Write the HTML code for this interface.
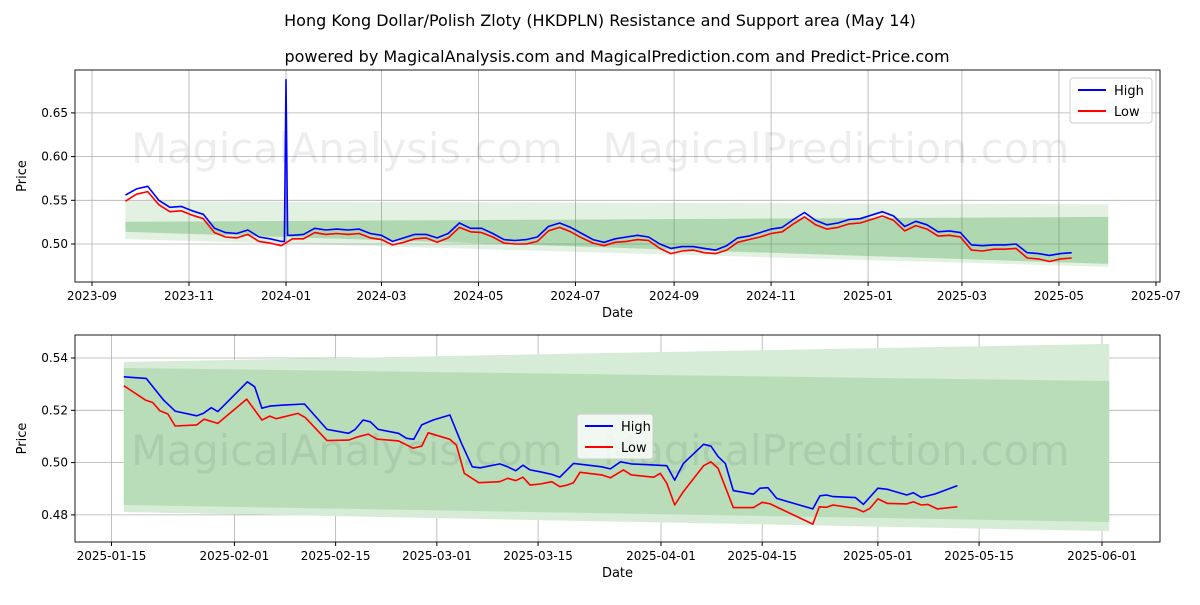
<!DOCTYPE html>
<html><head><meta charset="utf-8"><style>
body{margin:0;background:#fff;font-family:"Liberation Sans","DejaVu Sans",sans-serif}
svg text{font-family:"DejaVu Sans","Liberation Sans",sans-serif}
</style></head><body>
<svg id="s" width="1200" height="600" xmlns="http://www.w3.org/2000/svg">
<text x="600" y="26" font-size="16" text-anchor="middle">Hong Kong Dollar/Polish Zloty (HKDPLN) Resistance and Support area (May 14)</text>
<text x="617" y="62" font-size="16" text-anchor="middle">powered by MagicalAnalysis.com and MagicalPrediction.com and Predict-Price.com</text>
</svg>
<script>
// ---- top chart data ----
const topStart = "2023-09-22";
const topHigh = [0.556,0.563,0.566,0.550,0.542,0.543,0.538,0.534,0.518,0.513,0.512,0.516,0.508,0.506,0.503,0.510,0.511,0.518,0.516,0.517,0.516,0.517,0.512,0.510,0.503,0.507,0.511,0.511,0.507,0.512,0.524,0.518,0.518,0.512,0.505,0.504,0.505,0.508,0.520,0.524,0.519,0.512,0.505,0.502,0.506,0.508,0.510,0.508,0.500,0.495,0.497,0.497,0.495,0.493,0.498,0.507,0.509,0.513,0.517,0.519,0.528,0.536,0.527,0.522,0.524,0.528,0.529,0.533,0.537,0.532,0.520,0.526,0.522,0.514,0.515,0.513,0.499,0.498,0.499,0.499,0.500,0.490,0.489,0.487,0.489,0.490];
const topLow = [0.549,0.557,0.560,0.545,0.537,0.538,0.533,0.529,0.513,0.508,0.507,0.511,0.503,0.501,0.498,0.506,0.506,0.513,0.511,0.512,0.511,0.512,0.507,0.505,0.499,0.502,0.506,0.507,0.502,0.507,0.519,0.514,0.513,0.508,0.501,0.500,0.500,0.503,0.515,0.519,0.514,0.507,0.501,0.498,0.502,0.503,0.505,0.504,0.495,0.489,0.492,0.493,0.490,0.489,0.493,0.502,0.505,0.508,0.512,0.514,0.523,0.531,0.522,0.517,0.519,0.523,0.524,0.528,0.532,0.527,0.515,0.521,0.517,0.509,0.510,0.508,0.493,0.492,0.494,0.494,0.495,0.484,0.483,0.480,0.483,0.484];
const spikeDate = "2024-01-01";
const spikeHigh = 0.688;
const topBandDates = ["2023-09-22","2025-06-01"];
const topLightUpper = [0.549,0.5454];
const topLightLower = [0.5057,0.4738];
const topDarkUpper = [0.5255,0.531];
const topDarkLower = [0.514,0.4773];
const topYTicks = [0.50,0.55,0.60,0.65];
const topXTicks = ["2023-09","2023-11","2024-01","2024-03","2024-05","2024-07","2024-09","2024-11","2025-01","2025-03","2025-05","2025-07"];
// ---- bottom chart data (days since 2025-01-15) ----
const botHighDays = [1.7,4.8,7.2,8.8,11.8,12.7,13.8,14.7,18.8,19.8,20.8,21.9,23.8,26.7,29.8,32.8,33.7,34.8,35.8,36.9,39.7,40.8,41.8,42.9,44.5,46.8,48.4,49.9,51.0,53.7,54.8,55.9,56.9,57.9,59.3,60.9,62.0,63.9,67.8,69.0,70.4,71.9,76.8,77.9,79.1,81.9,82.9,83.9,84.9,86.0,88.8,89.7,90.8,92.0,97.0,98.0,98.9,99.8,102.9,104.0,106.0,107.3,110.0,110.9,112.0,113.9,117.0];
const botHigh = [.5328,.5322,.5239,.5197,.5179,.5188,.5210,.5195,.5309,.5290,.5208,.5216,.5220,.5224,.5127,.5112,.5127,.5163,.5156,.5127,.5112,.5093,.5089,.5144,.5163,.5182,.5074,.4984,.4980,.4995,.4984,.4969,.4990,.4972,.4965,.4955,.4944,.4997,.4984,.4976,.5003,.4995,.4988,.4933,.4997,.5070,.5063,.5023,.4997,.4893,.4879,.4902,.4904,.4863,.4823,.4873,.4876,.4870,.4866,.4840,.4902,.4898,.4876,.4885,.4867,.4880,.4912];
const botLowDays = [1.7,4.7,5.7,6.7,7.8,8.8,11.8,12.8,14.7,18.7,20.8,21.9,22.8,25.8,26.8,29.8,32.8,33.9,35.5,36.7,39.7,41.7,42.9,43.8,46.8,47.7,48.8,50.8,53.7,54.8,55.9,56.9,57.9,59.3,60.9,62.0,63.0,63.9,64.8,67.8,69.0,70.8,71.9,75.0,75.9,76.8,77.9,79.1,81.9,82.9,83.9,86.0,88.8,90.0,91.1,97.0,97.9,98.9,99.8,102.9,104.0,104.9,106.0,107.3,110.0,110.9,112.0,112.9,114.2,117.0];
const botLow = [.5294,.5239,.5230,.5198,.5186,.5140,.5144,.5166,.5150,.5243,.5163,.5178,.5168,.5188,.5172,.5084,.5086,.5097,.5109,.5090,.5083,.5055,.5063,.5114,.5089,.5067,.4959,.4923,.4927,.4940,.4931,.4944,.4914,.4918,.4927,.4908,.4914,.4923,.4963,.4953,.4942,.4972,.4953,.4944,.4959,.4921,.4838,.4889,.4988,.5003,.4978,.4828,.4828,.4848,.4842,.4765,.4831,.4829,.4838,.4825,.4812,.4825,.4861,.4844,.4842,.4850,.4838,.4840,.4823,.4831];
const botBandDays = [1.7,138];
const botLightUpper = [0.5385,0.5454];
const botLightLower = [0.4811,0.4738];
const botDarkUpper = [0.5362,0.5312];
const botDarkLower = [0.4838,0.4773];
const botYTicks = [0.48,0.50,0.52,0.54];
const botXTicks = ["2025-01-15","2025-02-01","2025-02-15","2025-03-01","2025-03-15","2025-04-01","2025-04-15","2025-05-01","2025-05-15","2025-06-01"];

const NS="http://www.w3.org/2000/svg";
const svg=document.getElementById('s');
function mk(tag,attrs,parent){const e=document.createElementNS(NS,tag);for(const k in attrs)e.setAttribute(k,attrs[k]);(parent||svg).appendChild(e);return e;}
const DAY=86400000;
function dnum(s){const p=s.split('-').map(Number);return Date.UTC(p[0],p[1]-1,p[2]||1)/DAY;}

function chart(cfg){
  const g=mk('g',{});
  
  
  const X=cfg.X,Y=cfg.Y;
  cfg.xt.forEach(t=>{const x=X(t.d);const l=mk('line',{x1:x,x2:x,y1:cfg.top,y2:cfg.bot,stroke:'#b0b0b0','stroke-width':0.8},g);});
  cfg.yt.forEach(v=>{const y=Y(v);const l=mk('line',{x1:cfg.left,x2:cfg.right,y1:y,y2:y,stroke:'#b0b0b0','stroke-width':0.8},g);});
  function band(xs,up,lo,fill,name){const pts=[[X(xs[0]),Y(up[0])],[X(xs[1]),Y(up[1])],[X(xs[1]),Y(lo[1])],[X(xs[0]),Y(lo[0])]].map(p=>p.join(',')).join(' ');const p=mk('polygon',{points:pts,fill:fill},g);}
  band(cfg.bx,cfg.lu,cfg.ll,cfg.lightFill,'support-resistance-band-outer');
  band(cfg.bx,cfg.du,cfg.dl,cfg.darkFill,'support-resistance-band-inner');
  [['MagicalAnalysis.com',347],['MagicalPrediction.com',836]].forEach(w=>{const t=mk('text',{x:w[1],y:cfg.wy,'font-size':41.5,'text-anchor':'middle',fill:'rgba(0,0,0,0.07)'},g);t.textContent=w[0];});
  function line(xs,ys,col,name){const d=xs.map((x,i)=>(i?'L':'M')+X(x).toFixed(1)+','+Y(ys[i]).toFixed(1)).join('');const p=mk('path',{d:d,fill:'none',stroke:col,'stroke-width':1.6,'stroke-linejoin':'round'},g);}
  line(cfg.hx,cfg.hy,'#0000ff','high-line');
  line(cfg.lx,cfg.ly,'#ff0000','low-line');
  const fr=mk('rect',{x:cfg.left,y:cfg.top,width:cfg.right-cfg.left,height:cfg.bot-cfg.top,fill:'none',stroke:'#000','stroke-width':0.9},g);
  
  cfg.xt.forEach(t=>{const x=X(t.d);mk('line',{x1:x,x2:x,y1:cfg.bot,y2:cfg.bot+4,stroke:'#000'},g);const tx=mk('text',{x:x,y:cfg.bot+18,'font-size':12,'text-anchor':'middle'},g);tx.textContent=t.l;});
  cfg.yt.forEach(v=>{const y=Y(v);mk('line',{x1:cfg.left-4,x2:cfg.left,y1:y,y2:y,stroke:'#000'},g);const tx=mk('text',{x:cfg.left-7,y:y+4,'font-size':12,'text-anchor':'end'},g);tx.textContent=v.toFixed(2);});
  const xl=mk('text',{x:(cfg.left+cfg.right)/2,y:cfg.bot+35,'font-size':13,'text-anchor':'middle'},g);xl.textContent='Date';
  
  const yc=(cfg.top+cfg.bot)/2;
  const yl=mk('text',{x:26,y:yc,'font-size':13,'text-anchor':'middle',transform:'rotate(-90 26 '+yc+')'},g);yl.textContent='Price';
  
  const L=cfg.leg;
  const lg=mk('g',{},g);
  
  mk('rect',{x:L.x,y:L.y,width:L.w,height:45,rx:3,fill:'rgba(255,255,255,0.8)',stroke:'#ccc'},lg);
  [['High','#0000ff',0],['Low','#ff0000',21]].forEach(e=>{mk('line',{x1:L.x+8,x2:L.x+36,y1:L.y+12+e[2],y2:L.y+12+e[2],stroke:e[1],'stroke-width':2},lg);const t=mk('text',{x:L.x+44,y:L.y+17+e[2],'font-size':13},lg);t.textContent=e[0];});
}

const t0=dnum("2023-09-01");
const TX=d=>92+(d-t0)*1.5904, TY=v=>244-(v-0.5)*874;
const s0=dnum(topStart);
const hxTop=[],hyTop=[],lxTop=[];
topHigh.forEach((v,i)=>{const d=s0+i*7;hxTop.push(d);hyTop.push(v);lxTop.push(d);});
const sd=dnum(spikeDate);let k=hxTop.findIndex(d=>d>sd);
hxTop.splice(k,0,sd-1,sd,sd+1);hyTop.splice(k,0,topHigh[k-1],spikeHigh,topHigh[k]);
chart({name:'top-chart',X:TX,Y:TY,top:70,bot:282,left:75,right:1160,wy:163,
  xt:topXTicks.map(l=>({d:dnum(l+"-01"),l:l})),yt:topYTicks,
  bx:topBandDates.map(dnum),lu:topLightUpper,ll:topLightLower,du:topDarkUpper,dl:topDarkLower,
  lightFill:'rgba(60,160,60,0.15)',darkFill:'rgba(60,160,60,0.3)',
  hx:hxTop,hy:hyTop,lx:lxTop,ly:topLow,leg:{x:1070,y:78,w:82}});
const BX=d=>111.5+d*7.23, BY=v=>358+(0.54-v)*2615;
const b0=dnum("2025-01-15");
chart({name:'bottom-chart',X:BX,Y:BY,top:335,bot:542,left:75,right:1160,wy:465,
  xt:botXTicks.map(l=>({d:dnum(l)-b0,l:l})),yt:botYTicks,
  bx:botBandDays,lu:botLightUpper,ll:botLightLower,du:botDarkUpper,dl:botDarkLower,
  lightFill:'#d6ecd6',darkFill:'#b8ddb8',
  hx:botHighDays,hy:botHigh,lx:botLowDays,ly:botLow,leg:{x:577,y:414,w:76}});
</script>
</body></html>
